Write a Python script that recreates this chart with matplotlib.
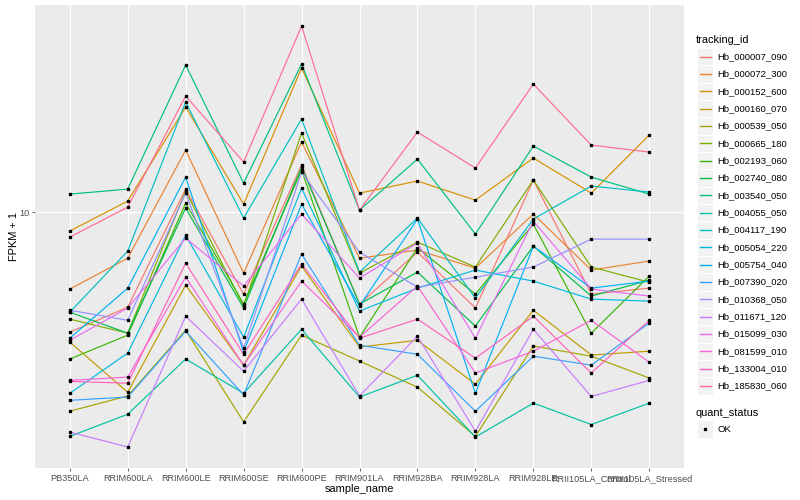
import matplotlib
matplotlib.use("Agg")
import numpy as np
import matplotlib.pyplot as plt
from matplotlib.lines import Line2D
from matplotlib.patches import Rectangle

plt.rcParams['font.family'] = ['Liberation Sans', 'DejaVu Sans']

# 样本 (x 轴)
sample_names = ["PB350LA", "RRIM600LA", "RRIM600LE", "RRIM600SE", "RRIM600PE",
                "RRIM901LA", "RRIM928BA", "RRIM928LA", "RRIM928LE",
                "RRII105LA_Control", "RRII105LA_Stressed"]

tracking_ids = ["Hb_000007_090", "Hb_000072_300", "Hb_000152_600", "Hb_000160_070",
                "Hb_000539_050", "Hb_000665_180", "Hb_002193_060", "Hb_002740_080",
                "Hb_003540_050", "Hb_004055_050", "Hb_004117_190", "Hb_005054_220",
                "Hb_005754_040", "Hb_007390_020", "Hb_010368_050", "Hb_011671_120",
                "Hb_015099_030", "Hb_081599_010", "Hb_133004_010", "Hb_185830_060"]

# ggplot 默认色盘 (20 色)
hue_colors = ["#F8766D", "#EA8331", "#D89000", "#C09B00", "#A3A500", "#7CAE00",
              "#39B600", "#00BB4E", "#00BF7D", "#00C1A3", "#00BFC4", "#00BAE0",
              "#00B0F6", "#35A2FF", "#9590FF", "#C77CFF", "#E76BF3", "#FA62DB",
              "#FF62BC", "#FF6C91"]

# FPKM 数值
hb_000007_090 = [2.98, 3.82, 10.93, 4.33, 13.35, 3.94, 6.36, 3.79, 11.79, 4.33, 4.58]
hb_000072_300 = [4.54, 6.02, 15.10, 5.26, 16.11, 6.02, 6.47, 5.51, 8.85, 5.41, 5.87]
hb_000152_600 = [7.65, 9.88, 21.39, 9.63, 29.20, 10.57, 11.69, 9.96, 14.14, 10.57, 17.06]
hb_000160_070 = [2.69, 1.51, 4.71, 2.09, 5.61, 2.55, 2.74, 1.67, 3.71, 2.34, 2.44]
hb_000539_050 = [1.17, 1.44, 3.04, 1.00, 2.89, 2.19, 1.61, 0.79, 2.58, 2.31, 1.80]
hb_000665_180 = [3.40, 2.95, 10.75, 3.86, 17.33, 5.26, 6.94, 5.56, 11.79, 5.56, 4.84]
hb_002193_060 = [2.24, 2.89, 9.72, 3.94, 12.81, 2.83, 6.59, 4.33, 8.12, 2.95, 5.12]
hb_002740_080 = [3.64, 2.95, 9.31, 3.79, 13.13, 3.94, 5.31, 3.17, 6.70, 4.25, 4.93]
hb_003540_050 = [10.48, 10.93, 29.90, 11.49, 30.14, 9.15, 14.02, 7.45, 15.60, 12.08, 10.48]
hb_004055_050 = [0.79, 1.12, 2.24, 1.49, 3.07, 1.42, 1.86, 0.78, 1.31, 0.96, 1.31]
hb_004117_190 = [3.64, 6.41, 22.27, 8.55, 19.42, 5.31, 8.55, 4.17, 8.48, 11.21, 10.66]
hb_005054_220 = [1.49, 2.39, 7.38, 2.83, 11.02, 3.68, 4.58, 5.41, 4.89, 4.13, 4.05]
hb_005754_040 = [2.80, 4.58, 12.08, 2.42, 9.63, 3.86, 8.48, 1.49, 6.70, 4.58, 4.89]
hb_007390_020 = [1.36, 1.42, 3.01, 1.46, 6.24, 2.60, 2.36, 1.17, 2.31, 2.09, 3.27]
hb_010368_050 = [3.71, 3.36, 10.57, 2.52, 12.59, 6.36, 4.62, 5.07, 5.56, 7.13, 7.13]
hb_011671_120 = [0.85, 0.65, 3.50, 1.95, 4.13, 1.44, 2.86, 0.86, 3.07, 1.43, 1.75]
hb_015099_030 = [2.74, 3.79, 7.19, 4.67, 8.85, 5.03, 6.88, 2.80, 8.33, 4.54, 4.25]
hb_081599_010 = [1.75, 1.82, 5.07, 2.09, 4.89, 2.83, 4.67, 1.91, 2.44, 3.36, 2.16]
hb_133004_010 = [1.73, 1.69, 5.76, 2.36, 5.71, 2.80, 3.40, 2.26, 3.50, 1.91, 3.36]
hb_185830_060 = [7.25, 9.39, 23.36, 13.68, 40.68, 9.15, 17.47, 13.02, 25.71, 15.72, 14.85]

series = [hb_000007_090, hb_000072_300, hb_000152_600, hb_000160_070, hb_000539_050,
          hb_000665_180, hb_002193_060, hb_002740_080, hb_003540_050, hb_004055_050,
          hb_004117_190, hb_005054_220, hb_005754_040, hb_007390_020, hb_010368_050,
          hb_011671_120, hb_015099_030, hb_081599_010, hb_133004_010, hb_185830_060]

W, H = 800, 500
fig = plt.figure(figsize=(8, 5), dpi=100)
ax = fig.add_axes([35 / W, 1 - 468 / H, 649 / W, 463 / H])
ax.set_facecolor("#EBEBEB")

x = np.arange(1, len(sample_names) + 1)
for vals, col in zip(series, hue_colors):
    ax.plot(x, np.array(vals) + 1, color=col, lw=0.85, zorder=3)
for vals in series:
    ax.plot(x, np.array(vals) + 1, ls="none", marker="s", ms=2.1,
            color="black", zorder=4)

ax.set_yscale("log")
allv = np.concatenate([np.array(v) + 1 for v in series])
lo, hi = np.log10(allv.min()), np.log10(allv.max())
pad = (hi - lo) * 0.05
ax.set_ylim(10 ** (lo - pad), 10 ** (hi + pad))
ax.set_xlim(0.4, len(sample_names) + 0.6)

ax.yaxis.set_major_locator(matplotlib.ticker.FixedLocator([1, 10, 100]))
ax.yaxis.set_major_formatter(matplotlib.ticker.FixedFormatter(["1", "10", "100"]))
ax.yaxis.set_minor_locator(matplotlib.ticker.NullLocator())
ax.set_xticks(x)
ax.set_xticklabels(sample_names)

ax.grid(True, which="major", color="white", lw=0.9, zorder=0)
ax.set_axisbelow(True)
for s in ax.spines.values():
    s.set_visible(False)
ax.tick_params(axis="both", colors="#4D4D4D", labelsize=6.6, length=2.2, width=0.6,
               pad=2)
for lab in ax.get_xticklabels() + ax.get_yticklabels():
    lab.set_color("#4D4D4D")

ax.set_xlabel("sample_name", fontsize=7.9)
ax.set_ylabel("FPKM + 1", fontsize=7.9)
ax.xaxis.set_label_coords(0.5, -0.035)
ax.yaxis.set_label_coords(-0.025, 0.5)


# 图例: 手工画 ggplot 风格
def px(xp, yp):
    return xp / W, 1 - yp / H


fig.text(*px(696, 40), "tracking_id", fontsize=7.9, va="center", ha="left")
step = 17.33
for i, (name, col) in enumerate(zip(tracking_ids, hue_colors)):
    yc = 56.7 + i * step
    bx, by = px(697, yc + step / 2)
    fig.add_artist(Rectangle((bx, by), 16 / W, step / H, transform=fig.transFigure,
                             facecolor="#F2F2F2", edgecolor="white", lw=0.8))
    fig.add_artist(Line2D([699.5 / W, 710.5 / W], [1 - yc / H] * 2,
                          transform=fig.transFigure, color=col, lw=1.0))
    fig.text(*px(717, yc), name, fontsize=6.8, va="center", ha="left")

fig.text(*px(696, 412.5), "quant_status", fontsize=7.9, va="center", ha="left")
bx, by = px(697, 429 + step / 2)
fig.add_artist(Rectangle((bx, by), 16 / W, step / H, transform=fig.transFigure,
                         facecolor="#F2F2F2", edgecolor="white", lw=0.8))
fig.add_artist(Line2D([705 / W], [1 - 429 / H], transform=fig.transFigure,
                      ls="none", marker="s", ms=2.1, color="black"))
fig.text(*px(717, 429), "OK", fontsize=6.8, va="center", ha="left")

fig.savefig("out.png", dpi=100, facecolor="white")
